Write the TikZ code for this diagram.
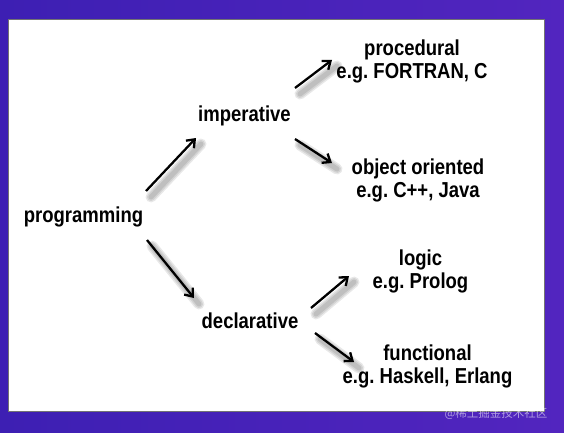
\documentclass[tikz,border=0pt]{standalone}
\usepackage{graphicx}
\usepackage{fontspec}
\setmainfont{Liberation Sans}
\newfontfamily\cjk{Noto Sans CJK SC}
\usetikzlibrary{arrows.meta,calc}
\definecolor{bgleft}{HTML}{3D1FB3}
\definecolor{bgright}{HTML}{5225BF}
\newcommand{\tline}[1]{\scalebox{1}[1.17]{#1}}
\frenchspacing

\begin{document}
\begin{tikzpicture}[x=1pt,y=-1pt,
  lbl/.style={align=center, font=\fontsize{18.5}{23}\selectfont\bfseries, inner sep=2pt},
  arr/.style={line width=2.3pt, -{Straight Barb[length=7pt,width=11pt]}}
]
  \useasboundingbox (0,0) rectangle (564,433);
  \shade[left color=bgleft, right color=bgright] (0,0) rectangle (564,433);
  \draw[fill=white, draw=black!55, line width=0.6pt] (8,19) rectangle (544,411);

  % labels
  \node[lbl] (prog) at (83.5,217) {\tline{programming}};
  \node[lbl] (imp) at (244.5,116) {\tline{imperative}};
  \node[lbl] (decl) at (250,321) {\tline{declarative}};
  \node[lbl] (proc) at (412,61) {\tline{procedural}\\\tline{e.g. FORTRAN, C}};
  \node[lbl] (obj) at (418,180) {\tline{object oriented}\\\tline{e.g. C++, Java}};
  \node[lbl] (logic) at (420.5,271) {\tline{logic}\\\tline{e.g. Prolog}};
  \node[lbl] (func) at (427.5,366) {\tline{functional}\\\tline{e.g. Haskell, Erlang}};

  % arrow ends
  \coordinate (pi1) at (146,191);  \coordinate (pi2) at (196,138);
  \coordinate (pd1) at (147,240);  \coordinate (pd2) at (194,298);
  \coordinate (ip1) at (295,88);   \coordinate (ip2) at (332,60);
  \coordinate (io1) at (295,139);  \coordinate (io2) at (332,163);
  \coordinate (dl1) at (311,308);  \coordinate (dl2) at (349,276);
  \coordinate (df1) at (315,333);  \coordinate (df2) at (354,362);

  \foreach \s/\e in {pi1/pi2, pd1/pd2, ip1/ip2, io1/io2, dl1/dl2, df1/df2} {
    \foreach \w in {11,8,5}
      \draw[line width=\w pt, line cap=round, black, opacity=0.09]
        ($(\s)+(5,6)$) -- ($(\e)+(5,6)$);
    \draw[arr] (\s) -- (\e);
  }

  \node[text=white, opacity=0.55, font=\cjk\fontsize{11.5}{12}\selectfont] (wm) at (496,414) {@稀土掘金技术社区};
\end{tikzpicture}
\end{document}
